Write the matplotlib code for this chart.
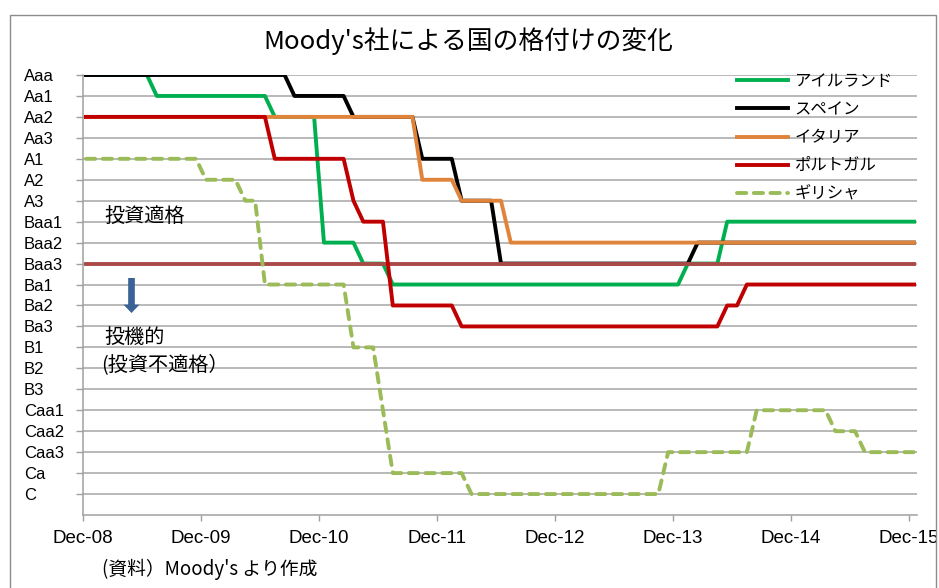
import matplotlib
matplotlib.use("Agg")
import matplotlib.pyplot as plt
from matplotlib import font_manager
from matplotlib.patches import Rectangle
from matplotlib.transforms import Bbox, TransformedBbox

# ---------------- data ----------------
ratings = ["Aaa", "Aa1", "Aa2", "Aa3", "A1", "A2", "A3", "Baa1", "Baa2", "Baa3",
           "Ba1", "Ba2", "Ba3", "B1", "B2", "B3", "Caa1", "Caa2", "Caa3", "Ca", "C"]

# x: months since Dec-08
x_ticks = [0, 12, 24, 36, 48, 60, 72, 84]
x_tick_labels = ["Dec-08", "Dec-09", "Dec-10", "Dec-11", "Dec-12", "Dec-13", "Dec-14", "Dec-15"]

ireland_x = [0.3, 6.5, 7.5, 18.5, 19.5, 23.5, 24.5, 27.5, 28.5, 30.5, 31.5, 60.5, 61.5, 64.5, 65.5, 84.5]
ireland_r = ["Aaa", "Aaa", "Aa1", "Aa1", "Aa2", "Aa2", "Baa2", "Baa2", "Baa3", "Baa3", "Ba1", "Ba1",
             "Baa3", "Baa3", "Baa1", "Baa1"]

spain_x = [0.3, 20.5, 21.5, 26.5, 27.5, 33.5, 34.5, 37.5, 38.5, 41.5, 42.5, 61.5, 62.5, 84.5]
spain_r = ["Aaa", "Aaa", "Aa1", "Aa1", "Aa2", "Aa2", "A1", "A1", "A3", "A3", "Baa3", "Baa3", "Baa2", "Baa2"]

italy_x = [0.3, 33.5, 34.5, 37.5, 38.5, 42.5, 43.5, 84.5]
italy_r = ["Aa2", "Aa2", "A2", "A2", "A3", "A3", "Baa2", "Baa2"]

portugal_x = [0.3, 18.5, 19.5, 26.5, 27.5, 28.5, 30.5, 31.5, 37.5, 38.5, 64.5, 65.5, 66.5, 67.5, 84.5]
portugal_r = ["Aa2", "Aa2", "A1", "A1", "A3", "Baa1", "Baa1", "Ba2", "Ba2", "Ba3", "Ba3", "Ba2", "Ba2",
              "Ba1", "Ba1"]

greece_x = [0.3, 11.5, 12.5, 15.5, 16.5, 17.5, 18.5, 26.5, 27.5, 29.5, 30.5, 31.5, 38.5, 39.5,
            58.5, 59.5, 67.5, 68.5, 75.5, 76.5, 78.5, 79.5, 84.5]
greece_r = ["A1", "A1", "A2", "A2", "A3", "A3", "Ba1", "Ba1", "B1", "B1", "Caa1", "Ca", "Ca", "C",
            "C", "Caa3", "Caa3", "Caa1", "Caa1", "Caa2", "Caa2", "Caa3", "Caa3"]

threshold_x = [0.3, 84.5]
threshold_r = ["Baa3", "Baa3"]

series_names = ["アイルランド", "スペイン", "イタリア", "ポルトガル", "ギリシャ"]

# ---------------- fonts ----------------
def have(fam):
    try:
        font_manager.findfont(font_manager.FontProperties(family=fam), fallback_to_default=False)
        return True
    except Exception:
        return False

JP = ["Noto Sans CJK JP", "DejaVu Sans"]
LAT = ["Liberation Sans Narrow", "DejaVu Sans"] if have("Liberation Sans Narrow") else ["Liberation Sans", "DejaVu Sans"]

def val(rlist):
    return [len(ratings) - ratings.index(r) for r in rlist]

# ---------------- figure ----------------
W, H = 939, 588
fig = plt.figure(figsize=(W / 100, H / 100), dpi=100)
ax = fig.add_axes([83 / W, 1 - 515 / H, (917 - 83) / W, (515 - 75) / H])

lw = 2.8
ax.plot(ireland_x, val(ireland_r), color="#00B050", lw=lw, label=series_names[0], zorder=2.1)
ax.plot(spain_x, val(spain_r), color="#000000", lw=lw, label=series_names[1], zorder=2.2)
ax.plot(threshold_x, val(threshold_r), color="#AA4A47", lw=lw, label="_nolegend_", zorder=2.3)
ax.plot(italy_x, val(italy_r), color="#E0843C", lw=lw, label=series_names[2], zorder=2.4)
ax.plot(portugal_x, val(portugal_r), color="#C00000", lw=lw, label=series_names[3], zorder=2.5)
ax.plot(greece_x, val(greece_r), color="#9BBB59", lw=lw, label=series_names[4], zorder=2.6,
        dashes=(2.4, 1.9), dash_capstyle="round")

ax.set_xlim(0, 84.8)
ax.set_ylim(0, len(ratings))

ax.set_yticks(range(len(ratings), 0, -1))
ax.set_yticklabels(ratings, family=LAT, fontsize=12)
for lab in ax.get_yticklabels():
    lab.set_horizontalalignment("left")
ax.tick_params(axis="y", direction="out", length=5, width=1, color="#A0A0A0", pad=37.5)

ax.set_xticks(x_ticks)
ax.set_xticklabels(x_tick_labels, family=LAT, fontsize=13.5)
ax.tick_params(axis="x", direction="out", length=4, width=1, color="#A0A0A0", pad=7)

clipbox = TransformedBbox(Bbox([[0, 0], [936 / W, 1]]), fig.transFigure)
for lab in ax.get_xticklabels():
    lab.set_clip_box(clipbox)
    lab.set_clip_on(True)

ax.yaxis.grid(True, color="#A6A6A6", lw=1.1)
ax.set_axisbelow(True)
for s in ["top", "right"]:
    ax.spines[s].set_visible(False)
for s in ["left", "bottom"]:
    ax.spines[s].set_color("#A0A0A0")
    ax.spines[s].set_linewidth(1.1)

# title
fig.text(468 / W, 1 - 41 / H, "Moody's社による国の格付けの変化", family=JP, fontsize=18.5,
         ha="center", va="center")

# annotations
ax.text((104 - 83) / 834, (515 - 216) / 440, "投資適格", family=JP, fontsize=14.5,
        ha="left", va="center", transform=ax.transAxes)
ax.text((104 - 83) / 834, (515 - 337) / 440, "投機的", family=JP, fontsize=14.5,
        ha="left", va="center", transform=ax.transAxes)
ax.text((101 - 83) / 834, (515 - 366) / 440, "(投資不適格）", family=JP, fontsize=14.5,
        ha="left", va="center", transform=ax.transAxes)
ax.annotate("", xy=((131.5 - 83) / 834, (515 - 313) / 440), xytext=((131.5 - 83) / 834, (515 - 278) / 440),
            xycoords="axes fraction", textcoords="axes fraction",
            arrowprops=dict(arrowstyle="simple,head_length=0.6,head_width=1.15,tail_width=0.48",
                            mutation_scale=10, color="#3B6296", shrinkA=0, shrinkB=0, lw=0))

# legend
leg = ax.legend(loc="upper left", bbox_to_anchor=(737 / W, 1 - 73 / H), bbox_transform=fig.transFigure,
                frameon=False, borderpad=0, borderaxespad=0, handlelength=3.13, handletextpad=0.38,
                labelspacing=0.68, prop=font_manager.FontProperties(family=JP, size=11.8))

# footer
fig.text(102 / W, 1 - 569 / H, "(資料）Moody's より作成", family=JP, fontsize=13.5, ha="left", va="center")

# chart border
fig.patches.append(Rectangle((10 / W, -0.05), (936 - 10) / W, 1.05 - 15 / H, transform=fig.transFigure,
                             fill=False, edgecolor="#8C8C8C", lw=1.0))

fig.savefig("out.png", dpi=100)
